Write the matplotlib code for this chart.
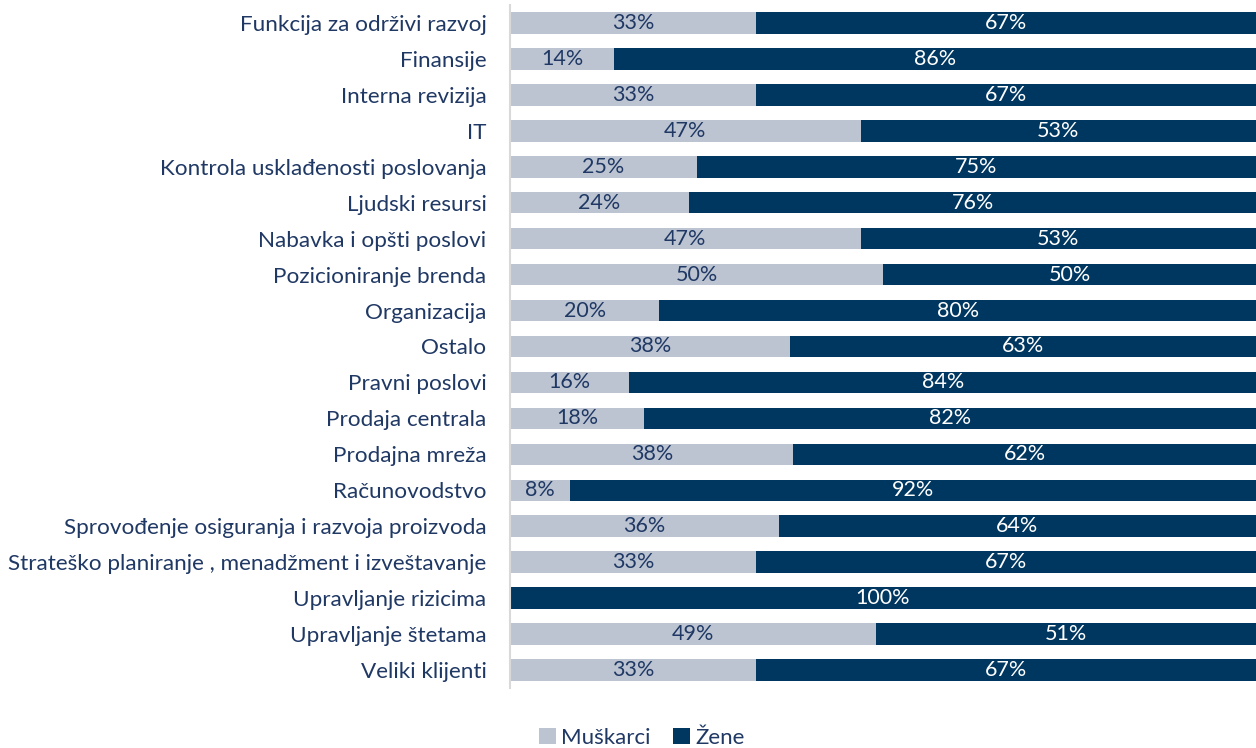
import matplotlib
matplotlib.use("Agg")
import matplotlib.pyplot as plt

# kategorije i udeli (%) po polu
categories = ["Funkcija za održivi razvoj", "Finansije", "Interna revizija", "IT",
              "Kontrola usklađenosti poslovanja", "Ljudski resursi",
              "Nabavka i opšti poslovi", "Pozicioniranje brenda", "Organizacija",
              "Ostalo", "Pravni poslovi", "Prodaja centrala", "Prodajna mreža",
              "Računovodstvo", "Sprovođenje osiguranja i razvoja proizvoda",
              "Strateško planiranje , menadžment i izveštavanje",
              "Upravljanje rizicima", "Upravljanje štetama", "Veliki klijenti"]
muskarci = [33, 14, 33, 47, 25, 24, 47, 50, 20, 37.5, 16, 18, 38, 8, 36, 33, 0, 49, 33]
zene = [67, 86, 67, 53, 75, 76, 53, 50, 80, 62.5, 84, 82, 62, 92, 64, 67, 100, 51, 67]

C_M = "#BCC4D2"
C_Z = "#003761"
TXT = "#1F3864"

plt.rcParams['font.family'] = ['Lato', 'DejaVu Sans']

fig = plt.figure(figsize=(12.56, 7.48), dpi=100)
ax = fig.add_axes([510/1256, 1-688/748, 1-510/1256, 683/748])

y = list(range(len(categories)))
bm = ax.barh(y, muskarci, height=0.6, color=C_M)
bz = ax.barh(y, zene, left=muskarci, height=0.6, color=C_Z)

for i in y:
    m, z = muskarci[i], zene[i]
    if m > 0:
        ax.text(m/2, i, "%d%%" % int(m + 0.5), ha="center", va="center",
                color=TXT, fontsize=15.5)
    if z > 0:
        ax.text(m + z/2, i, "%d%%" % int(z + 0.5), ha="center", va="center",
                color="white", fontsize=15.5)

ax.set_xlim(0, 100)
ax.set_ylim(len(categories) - 0.5, -0.5)
ax.set_yticks(y)
ax.set_yticklabels(categories, fontsize=16.2, color=TXT)
ax.tick_params(axis="y", length=0, pad=17)
ax.set_xticks([])
for s in ["top", "right", "bottom"]:
    ax.spines[s].set_visible(False)
ax.spines["left"].set_color("#D9D9D9")
ax.spines["left"].set_linewidth(1.5)

fig.legend([bm, bz], ["Muškarci", "Žene"], loc="center", bbox_to_anchor=(642/1256, 1-738/748),
           ncol=2, frameon=False, fontsize=16, handlelength=0.75, handleheight=0.75,
           handletextpad=0.25, columnspacing=1.0, labelcolor=TXT)

fig.savefig("out.png", dpi=100)
